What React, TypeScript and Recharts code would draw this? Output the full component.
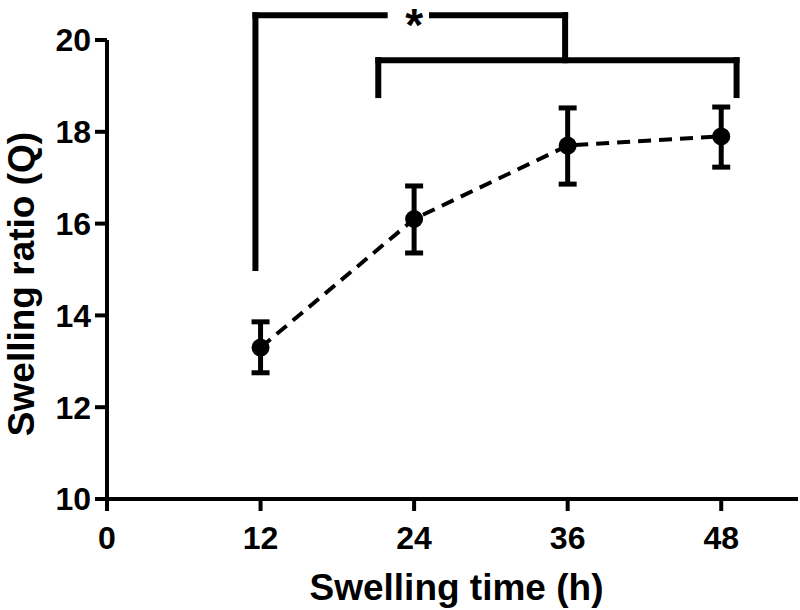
import React from "react";
import {
  ComposedChart,
  Line,
  ErrorBar,
  XAxis,
  YAxis,
  ReferenceLine,
  ReferenceDot,
} from "recharts";

// swelling time (h)
const hours = [12, 24, 36, 48];
// mean swelling ratio Q
const means = [13.3, 16.1, 17.7, 17.9];
const lows = [12.75, 15.36, 16.86, 17.23];
const highs = [13.86, 16.82, 18.52, 18.54];

const xTicks = [0, 12, 24, 36, 48];
const yTicks = [10, 12, 14, 16, 18, 20];

// significance brackets, in data units (x = hours, y = Q)
const bracketA = [
  { x: 11.6, y: 15.03 },
  { x: 11.6, y: 20.54 },
  { x: 21.7, y: 20.54 },
];
const bracketAEnd = [
  { x: 25.4, y: 20.54 },
  { x: 35.8, y: 20.54 },
  { x: 35.8, y: 19.56 },
];
const bracketB = [
  { x: 21.2, y: 18.8 },
  { x: 21.2, y: 19.56 },
  { x: 49.2, y: 19.56 },
  { x: 49.2, y: 18.8 },
];
const starAt = { x: 24, y: 20.54 };

const data = hours.map((t, i) => ({
  t,
  q: means[i],
  err: [means[i] - lows[i], highs[i] - means[i]],
}));

const FONT = "'Liberation Sans', Arial, sans-serif";

const toSegments = (pts: { x: number; y: number }[]) =>
  pts.slice(1).map((p, i) => [pts[i], p]);

const YTitle = () => {
  const x = 34;
  const y = 284;
  return (
    <text
      x={x}
      y={y}
      transform={`rotate(-90 ${x} ${y})`}
      textAnchor="middle"
      fontFamily={FONT}
      fontWeight="bold"
      fontSize={37}
      fill="#000"
    >
      Swelling ratio (Q)
    </text>
  );
};

export default function App() {
  const segments = [
    ...toSegments(bracketA),
    ...toSegments(bracketAEnd),
    ...toSegments(bracketB),
  ];
  return (
    <div style={{ position: "absolute", left: 0, top: 0, width: 800, height: 610, background: "#fff" }}>
      <ComposedChart
        width={800}
        height={610}
        data={data}
        margin={{ top: 40, right: 2, left: 0, bottom: 0 }}
      >
        <XAxis
          type="number"
          dataKey="t"
          domain={[0, 54]}
          ticks={xTicks}
          allowDataOverflow
          height={111}
          stroke="#000"
          strokeWidth={4}
          tickSize={12}
          tickMargin={15}
          tick={{ fill: "#000", fontSize: 32, fontWeight: "bold", fontFamily: FONT }}
          label={{
            value: "Swelling time (h)",
            position: "insideBottom",
            offset: 10,
            fill: "#000",
            fontSize: 37,
            fontWeight: "bold",
            fontFamily: FONT,
            dx: 4,
          }}
        />
        <YAxis
          type="number"
          domain={[10, 20]}
          ticks={yTicks}
          allowDataOverflow
          width={107}
          stroke="#000"
          strokeWidth={4}
          tickSize={12}
          tickMargin={4}
          tick={{ fill: "#000", fontSize: 32, fontWeight: "bold", fontFamily: FONT }}
          label={<YTitle />}
        />
        {segments.map((s, i) => (
          <ReferenceLine
            key={i}
            segment={s}
            stroke="#000"
            strokeWidth={6}
            strokeLinecap="square"
            ifOverflow="visible"
          />
        ))}
        <ReferenceDot
          x={starAt.x}
          y={starAt.y}
          ifOverflow="visible"
          shape={(p: any) => (
            <text
              x={p.cx}
              y={p.cy + 26}
              textAnchor="middle"
              fontFamily={FONT}
              fontWeight="bold"
              fontSize={46}
              fill="#000"
            >
              *
            </text>
          )}
        />
        <Line
          type="linear"
          dataKey="q"
          stroke="#000"
          strokeWidth={4}
          strokeDasharray="13 8"
          dot={{ r: 9, fill: "#000", stroke: "none" }}
          activeDot={false}
          isAnimationActive={false}
        >
          <ErrorBar
            dataKey="err"
            direction="y"
            width={9}
            stroke="#000"
            strokeWidth={5}
            isAnimationActive={false}
          />
        </Line>
      </ComposedChart>
    </div>
  );
}
